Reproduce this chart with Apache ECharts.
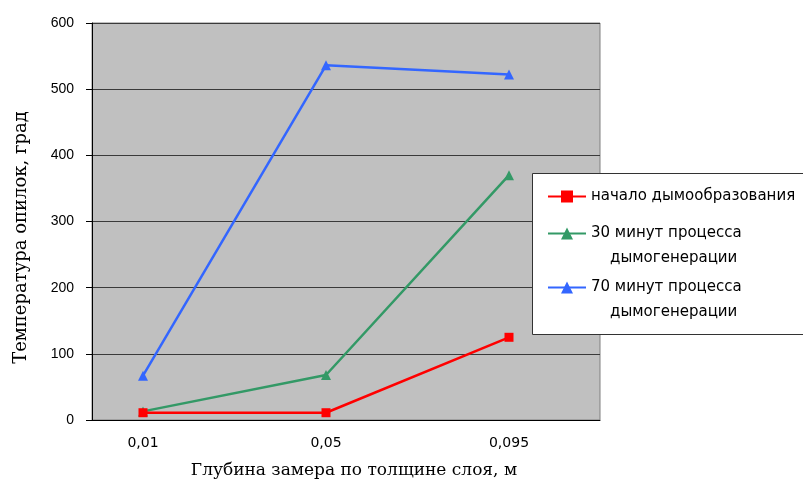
<!DOCTYPE html>
<html>
<head>
<meta charset="utf-8">
<script src="https://cdn.jsdelivr.net/npm/echarts@6/dist/echarts.min.js"></script>
<style>html,body{margin:0;padding:0;background:#fff}#c{width:803px;height:480px}</style>
</head>
<body>
<div id="c"></div>
<script>
const categories = ['0,01', '0,05', '0,095'];
const yTicks = [0, 100, 200, 300, 400, 500, 600];
const seriesNames = ['начало дымообразования', '30 минут процесса дымогенерации', '70 минут процесса дымогенерации'];
const startValues = [11, 11, 125];
const min30Values = [13, 68, 370];
const min70Values = [67, 536, 522];

const chart = echarts.init(document.getElementById('c'), null, {renderer: 'canvas'});
const legendFont = {fontFamily: 'DejaVu Sans', fontSize: 15, color: '#000'};
function legendItem(idx, top, twoLine) {
  return {
    left: 547, top: top, padding: 0, orient: 'vertical', z: 6,
    itemWidth: 38, itemHeight: 15, itemGap: 0,
    data: [seriesNames[idx]],
    selectedMode: false,
    formatter: twoLine ? function (n) { return '\n' + n.replace(' дымогенерации', '\n    дымогенерации'); } : null,
    textStyle: Object.assign({lineHeight: twoLine ? 25 : 17}, legendFont)
  };
}
const option = {
  animation: false,
  backgroundColor: '#fff',
  graphic: [{
    type: 'rect', z: 5,
    shape: {x: 532.5, y: 173.5, width: 300, height: 161},
    style: {fill: '#fff', stroke: '#333', lineWidth: 1}
  }],
  legend: [legendItem(0, 188, false), legendItem(1, 196, true), legendItem(2, 250, true)],
  grid: [
    {left: 92, top: 23, width: 508, height: 397, show: true, backgroundColor: '#c0c0c0', borderColor: '#808080', borderWidth: 1, z: 0, outerBoundsMode: 'none', containLabel: false},
    {left: 143, top: 23, width: 366, height: 397, outerBoundsMode: 'none', containLabel: false}
  ],
  xAxis: [
    {gridIndex: 0, type: 'value', min: 0, max: 1, axisLine: {show: true, onZero: false, lineStyle: {color: '#000', width: 1}}, axisTick: {show: false}, axisLabel: {show: false}, splitLine: {show: false},
     name: 'Глубина замера по толщине слоя, м', nameLocation: 'middle', nameGap: 42,
     nameTextStyle: {fontFamily: 'DejaVu Serif', fontSize: 17, color: '#000', padding: [0, 0, 0, 16]}},
    {gridIndex: 1, type: 'category', boundaryGap: false, data: categories, axisLine: {show: false}, axisTick: {show: false},
     axisLabel: {margin: 16, fontFamily: 'DejaVu Sans', fontSize: 14, color: '#000'}, splitLine: {show: false}}
  ],
  yAxis: [
    {gridIndex: 0, type: 'value', min: 0, max: 600, interval: 100,
     axisLine: {show: true, lineStyle: {color: '#000', width: 1}},
     axisTick: {show: true, length: 6, lineStyle: {color: '#000'}},
     axisLabel: {margin: 18, fontFamily: 'Liberation Sans', fontSize: 14, color: '#000',
       formatter: function (v) { return yTicks.indexOf(v) >= 0 ? String(v) : ''; }},
     splitLine: {show: true, lineStyle: {color: '#3a3a3a', width: 1}},
     name: 'Температура опилок, град', nameLocation: 'middle', nameGap: 62, nameRotate: 90,
     nameTextStyle: {fontFamily: 'DejaVu Serif', fontSize: 18, color: '#000', padding: [0, 32, 0, 0]}},
    {gridIndex: 1, type: 'value', min: 0, max: 600, show: false, splitLine: {show: false}}
  ],
  series: [
    {name: seriesNames[0], type: 'line', xAxisIndex: 1, yAxisIndex: 1, data: startValues, symbol: 'rect', symbolSize: 9,
     lineStyle: {color: '#ff0000', width: 2.5}, itemStyle: {color: '#ff0000'}, z: 4},
    {name: seriesNames[1], type: 'line', xAxisIndex: 1, yAxisIndex: 1, data: min30Values, symbol: 'triangle', symbolSize: 10,
     lineStyle: {color: '#339966', width: 2.5}, itemStyle: {color: '#339966'}, z: 3},
    {name: seriesNames[2], type: 'line', xAxisIndex: 1, yAxisIndex: 1, data: min70Values, symbol: 'triangle', symbolSize: 10,
     lineStyle: {color: '#3366ff', width: 2.5}, itemStyle: {color: '#3366ff'}, z: 2}
  ]
};
chart.setOption(option);
</script>
</body>
</html>
